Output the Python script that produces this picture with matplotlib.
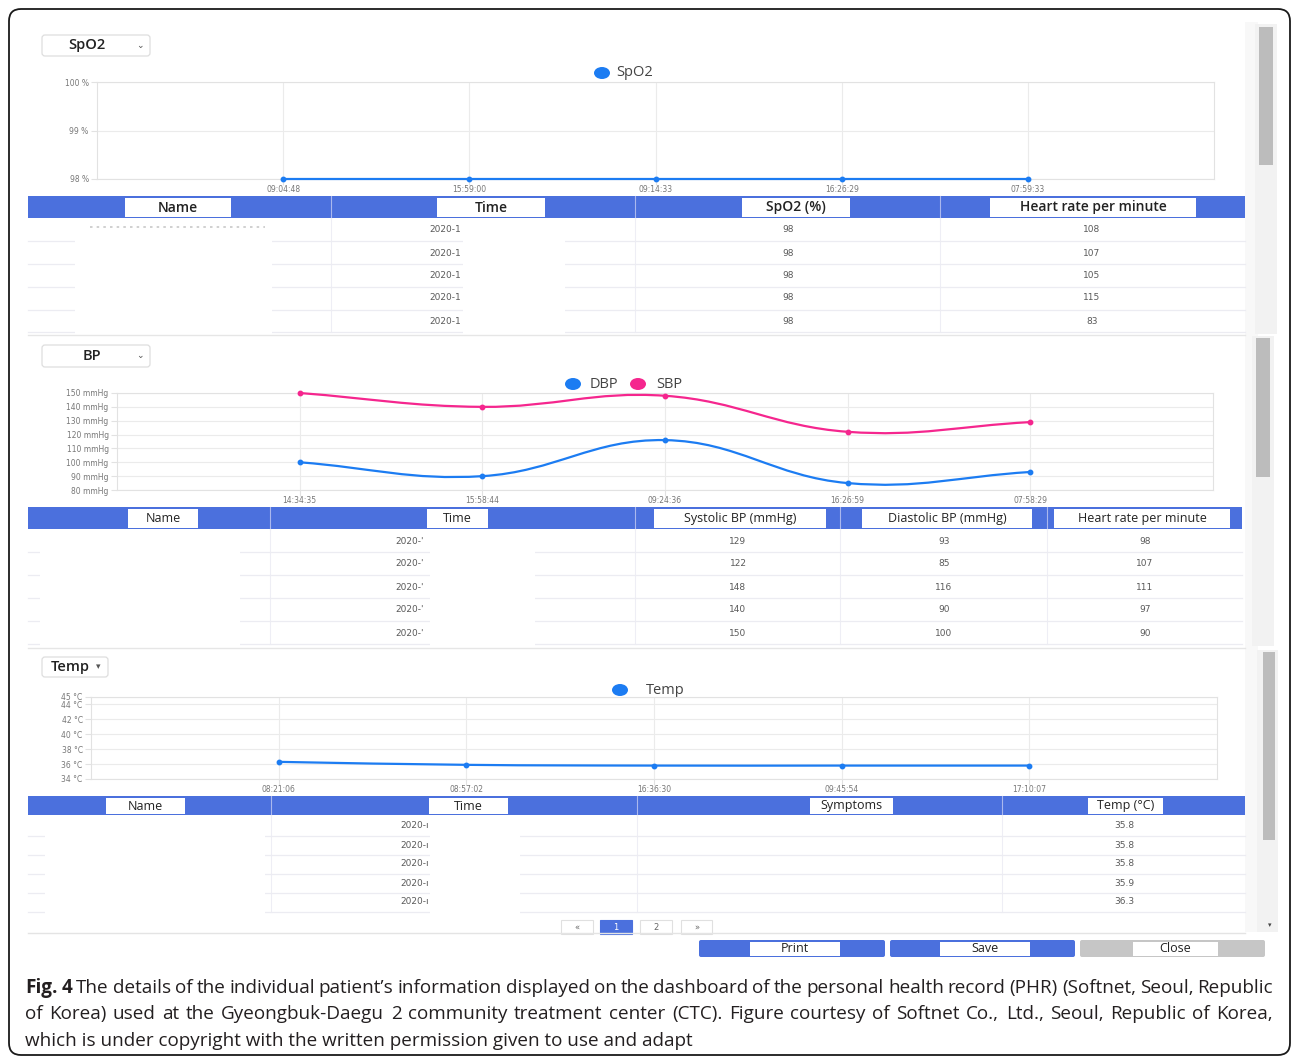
import numpy as np
import matplotlib
matplotlib.use('Agg')
import matplotlib.pyplot as plt
from matplotlib.patches import Rectangle, FancyBboxPatch, Ellipse, PathPatch
from matplotlib.path import Path

plt.rcParams['font.family'] = ['Open Sans', 'DejaVu Sans']

W, H = 1292, 1059

# ---- data (tables are newest first, charts oldest first) ----
spo2_times = ['09:04:48', '15:59:00', '09:14:33', '16:26:29', '07:59:33']
spo2_dates = ['2020-1', '2020-1', '2020-1', '2020-1', '2020-1']
spo2_pct = [98, 98, 98, 98, 98]
spo2_hr = [108, 107, 105, 115, 83]
spo2_headers = ['Name', 'Time', 'SpO2 (%)', 'Heart rate per minute']

bp_times = ['14:34:35', '15:58:44', '09:24:36', '16:26:59', '07:58:29']
bp_dates = ["2020-'", "2020-'", "2020-'", "2020-'", "2020-'"]
bp_sys = [129, 122, 148, 140, 150]
bp_dia = [93, 85, 116, 90, 100]
bp_hr = [98, 107, 111, 97, 90]
bp_headers = ['Name', 'Time', 'Systolic BP (mmHg)', 'Diastolic BP (mmHg)', 'Heart rate per minute']

temp_times = ['08:21:06', '08:57:02', '16:36:30', '09:45:54', '17:10:07']
temp_dates = ['2020-ı', '2020-ı', '2020-ı', '2020-ı', '2020-ı']
temp_vals = [35.8, 35.8, 35.8, 35.9, 36.3]
temp_headers = ['Name', 'Time', 'Symptoms', 'Temp (°C)']

caption1 = "The details of the individual patient’s information displayed on the dashboard of the personal health record (PHR) (Softnet, Seoul, Republic"
caption2 = "of Korea) used at the Gyeongbuk-Daegu 2 community treatment center (CTC). Figure courtesy of Softnet Co., Ltd., Seoul, Republic of Korea,"
caption3 = "which is under copyright with the written permission given to use and adapt"

BLUE = '#4b70dd'
LINE_BLUE = '#1c7cf2'
PINK = '#f5268e'
GRID = '#ebebeb'
CELL = '#5a5a5a'

fig = plt.figure(figsize=(W / 100, H / 100), dpi=100)
bg = fig.add_axes([0, 0, 1, 1])
bg.set_xlim(0, W)
bg.set_ylim(H, 0)
bg.axis('off')
renderer = fig.canvas.get_renderer()


def rect(x0, y0, x1, y1, **kw):
    bg.add_patch(Rectangle((x0, y0), x1 - x0, y1 - y0, **kw))


def chart_axes(x0, y0, x1, y1):
    return fig.add_axes([x0 / W, 1 - y1 / H, (x1 - x0) / W, (y1 - y0) / H])


def style_chart(ax, xlabels, ylim, yticks, ylabels):
    ax.set_xlim(0, len(xlabels) + 1)
    ax.set_ylim(*ylim)
    ax.set_xticks(range(1, len(xlabels) + 1))
    ax.set_xticklabels(xlabels)
    ax.set_yticks(yticks)
    ax.set_yticklabels(ylabels)
    ax.set_axisbelow(True)
    ax.grid(True, color=GRID, lw=0.8)
    ax.set_facecolor('none')
    for s in ax.spines.values():
        s.set_color('#e2e2e2')
        s.set_linewidth(0.8)
    ax.tick_params(length=4, width=0.8, color='#e2e2e2', labelsize=5.5,
                   labelcolor='#777777', pad=2)
    ax.tick_params(axis='x', pad=0.5)
    for lab in ax.get_xticklabels() + ax.get_yticklabels():
        lab.set_family('DejaVu Sans')


def smooth_line(ax, ys, color, t=0.4):
    # chart.js style bezier through the points (drawn in pixel space)
    xs = np.arange(1, len(ys) + 1)
    pts = ax.transData.transform(np.column_stack([xs, ys]))
    n = len(pts)
    prev_cp, next_cp = [], []
    for i in range(n):
        p0 = pts[max(i - 1, 0)]
        p1 = pts[i]
        p2 = pts[min(i + 1, n - 1)]
        d01 = np.hypot(*(p1 - p0))
        d12 = np.hypot(*(p2 - p1))
        tot = d01 + d12
        s01 = d01 / tot if tot else 0
        s12 = d12 / tot if tot else 0
        prev_cp.append(p1 - t * s01 * (p2 - p0))
        next_cp.append(p1 + t * s12 * (p2 - p0))
    verts = [pts[0]]
    codes = [Path.MOVETO]
    for i in range(n - 1):
        verts += [next_cp[i], prev_cp[i + 1], pts[i + 1]]
        codes += [Path.CURVE4] * 3
    verts = ax.transData.inverted().transform(np.array(verts))
    ax.add_patch(PathPatch(Path(verts, codes), fill=False, ec=color, lw=1.6,
                           clip_on=False, zorder=3))
    ax.plot(xs, ys, 'o', ms=3.2, color=color, clip_on=False, zorder=4)


def dropdown(x0, y0, x1, y1, label, tx, arrow):
    bg.add_patch(FancyBboxPatch((x0, y0), x1 - x0, y1 - y0,
                                boxstyle='round,pad=0,rounding_size=3',
                                fc='white', ec='#dedede', lw=0.9))
    bg.text(tx, (y0 + y1) / 2, label, ha='center', va='center', fontsize=10.5,
            color='#222222', fontweight='semibold')
    bg.text(arrow[0], arrow[1], arrow[2], ha='center', va='center',
            fontsize=6.5, color='#555555', family='DejaVu Sans')


def legend_item(cx, cy, color, label, tx):
    bg.add_patch(Ellipse((cx, cy), 16, 12, fc=color, ec='none'))
    bg.text(tx, cy, label, ha='left', va='center', fontsize=10.5, color='#444444')


def table(band, dividers, boxes, headers, rows_y, seps, columns, redact,
          fs=9.5, weight='normal'):
    x0, y0, x1, y1 = band
    rect(x0, y0, x1, y1, fc=BLUE, ec='none')
    for d in dividers:
        bg.plot([d, d], [y0, y1], color='#aab8ee', lw=0.8)
        bg.plot([d, d], [y1, seps[-1]], color='#eeeef5', lw=0.8)
    for (bx0, bx1), h in zip(boxes, headers):
        rect(bx0, y0 + 2, bx1, y1 - 1.5, fc='white', ec='none')
        bg.text((bx0 + bx1) / 2, (y0 + y1) / 2 + 0.5, h, ha='center', va='center',
                fontsize=fs, color='#222222', fontweight=weight)
    for s in seps:
        bg.plot([x0, x1], [s, s], color='#ececf2', lw=0.9)
    for rx0, rx1 in redact:
        rect(rx0, y1 + 1, rx1, seps[-1] + 1.5, fc='white', ec='none', zorder=2)
    for cx, vals in columns:
        for y, v in zip(rows_y, vals):
            bg.text(cx, y, str(v), ha='center', va='center', fontsize=6.5,
                    color=CELL, family='DejaVu Sans', zorder=3)


def scrollbar(x0, x1, y0, y1, tx0, tx1, ty0, ty1):
    rect(x0, y0, x1, y1, fc='#f2f2f2', ec='none')
    rect(tx0, ty0, tx1, ty1, fc='#bcbcbc', ec='none')


# ---- outer frame and side bars ----
bg.add_patch(FancyBboxPatch((9, 9), 1281, 1046, boxstyle='round,pad=0,rounding_size=12',
                            fill=False, ec='#1a1a1a', lw=1.3))
rect(1245, 22, 1258, 932, fc='#f8f8f8', ec='none')
scrollbar(1255, 1277, 24, 334, 1259, 1273, 27, 165)
scrollbar(1252, 1274, 336, 646, 1256, 1270, 338, 477)
scrollbar(1257, 1278, 650, 932, 1263, 1275, 652, 840)
bg.text(1270, 925, '▾', ha='center', va='center', fontsize=5, color='#444444',
        family='DejaVu Sans')
for y in (335, 648):
    bg.plot([28, 1245], [y, y], color='#e6e6e6', lw=1.0)

# ---- SpO2 panel ----
dropdown(42, 35, 150, 56, 'SpO2', 87, (140, 45, '⌄'))
legend_item(602, 73, LINE_BLUE, 'SpO2', 616)
ax1 = chart_axes(97, 82, 1214, 179)
style_chart(ax1, spo2_times, (98, 100), [98, 99, 100], ['98 %', '99 %', '100 %'])
smooth_line(ax1, spo2_pct[::-1], LINE_BLUE)

table((28, 196, 1245, 218), [331, 635, 940],
      [(125, 231), (437, 545), (742, 850), (990, 1196)], spo2_headers,
      [230, 253, 276, 298, 321], [241, 264, 287, 310, 332],
      [(445, spo2_dates), (788, spo2_pct), (1092, spo2_hr)],
      [(75, 272), (463, 565)], fs=10, weight='semibold')
bg.plot([90, 265], [227, 227], color='#c8c8c8', lw=1.2, ls=(0, (1.5, 2.5)))

# ---- BP panel ----
dropdown(42, 345, 150, 367, 'BP', 92, (140, 355, '⌄'))
legend_item(573, 384, LINE_BLUE, 'DBP', 590)
legend_item(638, 384, PINK, 'SBP', 656)
ax2 = chart_axes(117, 393, 1213, 490)
bp_ticks = [80, 90, 100, 110, 120, 130, 140, 150]
style_chart(ax2, bp_times, (80, 150), bp_ticks, [f'{v} mmHg' for v in bp_ticks])
smooth_line(ax2, bp_dia[::-1], LINE_BLUE)
smooth_line(ax2, bp_sys[::-1], PINK)

table((28, 507, 1242, 529), [270, 635, 840, 1047],
      [(128, 198), (427, 488), (654, 826), (862, 1032), (1054, 1230)], bp_headers,
      [541, 564, 587, 610, 633], [552, 575, 598, 621, 644],
      [(410, bp_dates), (738, bp_sys), (944, bp_dia), (1145, bp_hr)],
      [(40, 240), (430, 535)], fs=9, weight='medium')

# ---- Temp panel ----
dropdown(42, 657, 108, 677, 'Temp', 70, (98, 667, '▾'))
legend_item(620, 690, LINE_BLUE, 'Temp', 646)
ax3 = chart_axes(91, 697, 1217, 779)
t_ticks = [34, 36, 38, 40, 42, 44, 45]
style_chart(ax3, temp_times, (34, 45), t_ticks, [f'{v} °C' for v in t_ticks])
smooth_line(ax3, temp_vals[::-1], LINE_BLUE)

table((28, 796, 1245, 815), [271, 637, 1002],
      [(106, 185), (429, 508), (810, 893), (1088, 1163)], temp_headers,
      [826, 845, 864, 883, 902], [836, 855, 874, 893, 912],
      [(415, temp_dates), (1124, temp_vals)],
      [(45, 265), (430, 520)], fs=9, weight='medium')

# pagination
for (px0, px1), lab in zip([(561, 593), (600, 632), (640, 672), (681, 712)],
                           ['«', '1', '2', '»']):
    active = lab == '1'
    rect(px0, 920, px1, 934, fc=BLUE if active else 'white',
         ec=BLUE if active else '#e0e0e0', lw=0.8)
    bg.text((px0 + px1) / 2, 928, lab, ha='center', va='center', fontsize=6,
            color='white' if active else '#666666', family='DejaVu Sans')
bg.plot([28, 1245], [933, 933], color='#e4e4e4', lw=1.0)

# buttons
for (bx0, bx1), (ix0, ix1), lab, col in zip(
        [(699, 885), (890, 1075), (1080, 1265)],
        [(750, 840), (940, 1030), (1133, 1218)],
        ['Print', 'Save', 'Close'], [BLUE, BLUE, '#c6c6c6']):
    bg.add_patch(FancyBboxPatch((bx0, 940), bx1 - bx0, 17,
                                boxstyle='round,pad=0,rounding_size=2', fc=col, ec='none'))
    rect(ix0, 941.5, ix1, 955.5, fc='white', ec='none')
    bg.text((ix0 + ix1) / 2, 948, lab, ha='center', va='center', fontsize=9,
            color='#222222')

# ---- caption ----
CAP_FS = 13.6


def text_width(s, weight='normal'):
    t = bg.text(0, 0, s, fontsize=CAP_FS, fontweight=weight)
    w = t.get_window_extent(renderer).width
    t.remove()
    return w


def justify(tokens, y, x0, x1):
    widths = [text_width(w, wt) for w, wt in tokens]
    gap = (x1 - x0 - sum(widths)) / (len(tokens) - 1)
    x = x0
    for (w, wt), wd in zip(tokens, widths):
        bg.text(x, y, w, fontsize=CAP_FS, fontweight=wt, ha='left', va='center',
                color='#231f20')
        x += wd + gap


tok1 = [('Fig.', 'bold'), ('4', 'bold')] + [(w, 'normal') for w in caption1.split(' ')]
tok2 = [(w, 'normal') for w in caption2.split(' ')]
justify(tok1, 988, 25, 1273)
justify(tok2, 1014, 25, 1273)
bg.text(25, 1041, caption3, fontsize=CAP_FS, ha='left', va='center', color='#231f20')

fig.savefig('out.png', dpi=100)
